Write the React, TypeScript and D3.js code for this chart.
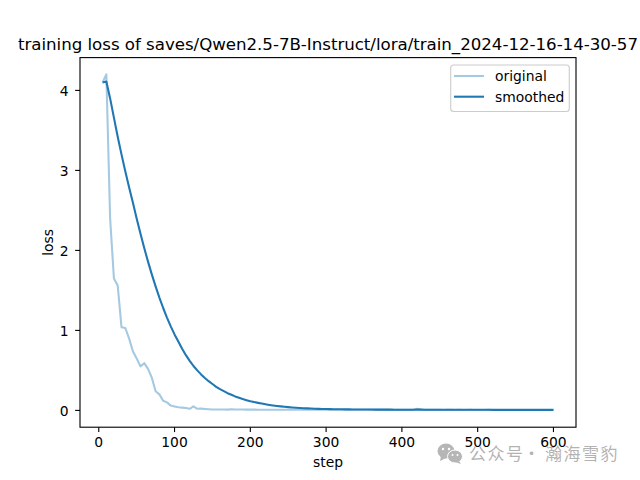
import React from "react";
import * as d3 from "d3";

const TITLE = "training loss of saves/Qwen2.5-7B-Instruct/lora/train_2024-12-16-14-30-57";
const WM_LEFT = "公众号";
const WM_DOT = "·";
const WM_RIGHT = "瀚海雪豹";
const stepInterval = 5;
const xTicks = [0, 100, 200, 300, 400, 500, 600];
const yTicks = [0, 1, 2, 3, 4];
const original = [
  4.1, 4.2, 2.4, 1.65, 1.56, 1.04, 1.03, 0.9, 0.74, 0.65, 0.55, 0.59,
  0.52, 0.41, 0.24, 0.2, 0.12, 0.1, 0.06, 0.05, 0.04, 0.035, 0.03, 0.02,
  0.05, 0.02, 0.022, 0.018, 0.015, 0.012, 0.012, 0.012, 0.012, 0.01, 0.015, 0.011,
  0.012, 0.011, 0.01, 0.01, 0.01, 0.009, 0.009, 0.009, 0.008, 0.009, 0.008, 0.009,
  0.008, 0.008, 0.008, 0.008, 0.009, 0.008, 0.008, 0.008, 0.009, 0.008, 0.008, 0.008,
  0.009, 0.008, 0.008, 0.008, 0.008, 0.008, 0.008, 0.008, 0.008, 0.008, 0.008, 0.007,
  0.008, 0.008, 0.007, 0.008, 0.007, 0.008, 0.007, 0.007, 0.007, 0.007, 0.007, 0.02,
  0.012, 0.007, 0.007, 0.007, 0.007, 0.007, 0.006, 0.007, 0.007, 0.006, 0.007, 0.006,
  0.006, 0.007, 0.006, 0.006, 0.006, 0.006, 0.007, 0.006, 0.006, 0.006, 0.006, 0.006,
  0.006, 0.006, 0.006, 0.006, 0.006, 0.006, 0.006, 0.006, 0.006, 0.006, 0.006, 0.006,
];
const smoothed = [
  4.1, 4.11, 3.9, 3.66, 3.42, 3.2, 2.99, 2.79, 2.6, 2.4, 2.21, 2.03,
  1.86, 1.7, 1.55, 1.41, 1.28, 1.16, 1.05, 0.95, 0.86, 0.77, 0.69, 0.62,
  0.555, 0.5, 0.45, 0.405, 0.365, 0.33, 0.295, 0.265, 0.24, 0.215, 0.195, 0.175,
  0.158, 0.142, 0.128, 0.115, 0.104, 0.094, 0.085, 0.076, 0.068, 0.061, 0.055, 0.05,
  0.045, 0.041, 0.037, 0.033, 0.03, 0.027, 0.025, 0.023, 0.021, 0.019, 0.018, 0.017,
  0.016, 0.015, 0.014, 0.014, 0.013, 0.013, 0.012, 0.012, 0.012, 0.011, 0.011, 0.011,
  0.01, 0.01, 0.01, 0.01, 0.01, 0.009, 0.009, 0.009, 0.009, 0.009, 0.009, 0.01,
  0.01, 0.009, 0.009, 0.009, 0.009, 0.008, 0.008, 0.008, 0.008, 0.008, 0.008, 0.008,
  0.008, 0.008, 0.008, 0.008, 0.008, 0.008, 0.008, 0.007, 0.007, 0.007, 0.007, 0.007,
  0.007, 0.007, 0.007, 0.007, 0.007, 0.007, 0.007, 0.007, 0.007, 0.007, 0.007, 0.007,
];

const W = 640, H = 480;
const L = 80, R = 576, T = 57.6, B = 427.2;
const FONT = "'DejaVu Sans', sans-serif";
const BLUE = "#1f77b4";

export default function App() {
  const x = d3.scaleLinear().domain([5, 600]).range([L + 22.55, R - 22.55]);
  const y = d3.scaleLinear().domain([0, 4.2]).range([B - 16.8, T + 16.8]);
  const line = d3.line<number>().x((_, i) => x((i + 1) * stepInterval)).y((d) => y(d));
  return (
    <svg width={W} height={H} viewBox={`0 0 ${W} ${H}`} style={{ position: "absolute", left: 0, top: 0, background: "#fff" }} fontFamily={FONT}>
      <path d={line(original) ?? ""} fill="none" stroke={BLUE} strokeOpacity={0.4} strokeWidth={2.08} strokeLinejoin="round" />
      <path d={line(smoothed) ?? ""} fill="none" stroke={BLUE} strokeWidth={2.08} strokeLinejoin="round" />
      <rect x={L} y={T} width={R - L} height={B - T} fill="none" stroke="#000" strokeWidth={1.11} />
      {xTicks.map((t) => (
        <g key={t}>
          <line x1={x(t)} x2={x(t)} y1={B} y2={B + 4.86} stroke="#000" strokeWidth={1.11} />
          <text x={x(t)} y={B + 20} textAnchor="middle" fontSize={13.89}>{t}</text>
        </g>
      ))}
      {yTicks.map((t) => (
        <g key={t}>
          <line x1={L - 4.86} x2={L} y1={y(t)} y2={y(t)} stroke="#000" strokeWidth={1.11} />
          <text x={L - 11.5} y={y(t) + 5.2} textAnchor="end" fontSize={13.89}>{t}</text>
        </g>
      ))}
      <text x={(L + R) / 2} y={467} textAnchor="middle" fontSize={13.89}>step</text>
      <text transform={`translate(53 ${(T + B) / 2}) rotate(-90)`} textAnchor="middle" fontSize={13.89}>loss</text>
      <text x={(L + R) / 2} y={49.6} textAnchor="middle" fontSize={16.67} textLength={620} lengthAdjust="spacing">{TITLE}</text>
      <rect x={450.7} y={65} width={118.6} height={46.5} rx={3} fill="#fff" fillOpacity={0.8} stroke="#ccc" strokeWidth={1.11} />
      <line x1={454} x2={484} y1={76} y2={76} stroke={BLUE} strokeOpacity={0.4} strokeWidth={2.08} />
      <line x1={454} x2={484} y1={96.7} y2={96.7} stroke={BLUE} strokeWidth={2.08} />
      <text x={495} y={81} fontSize={13.89}>original</text>
      <text x={495} y={101.5} fontSize={13.89}>smoothed</text>
      <g opacity={0.85}>
        <ellipse cx={446} cy={451} rx={8.5} ry={7.5} fill="#aaa" />
        <path d="M441 456 L440 461 L446 458 Z" fill="#aaa" />
        <ellipse cx={455} cy={456.5} rx={7.5} ry={6.5} fill="#aaa" stroke="#fff" strokeWidth={1} />
        <path d="M459 461 L461 464 L455 462 Z" fill="#aaa" />
        <circle cx={443} cy={449} r={1.2} fill="#fff" />
        <circle cx={449} cy={449} r={1.2} fill="#fff" />
        <circle cx={452.5} cy={455} r={1} fill="#fff" />
        <circle cx={457.5} cy={455} r={1} fill="#fff" />
      </g>
      <g fontSize={17} fill="#999" fillOpacity={0.75} fontFamily="'Noto Sans CJK SC', sans-serif" letterSpacing={1.5}>
        <text x={469} y={459.5}>{WM_LEFT}</text>
        <text x={523} y={459.5}>{WM_DOT}</text>
        <text x={545} y={459.5}>{WM_RIGHT}</text>
      </g>
    </svg>
  );
}
